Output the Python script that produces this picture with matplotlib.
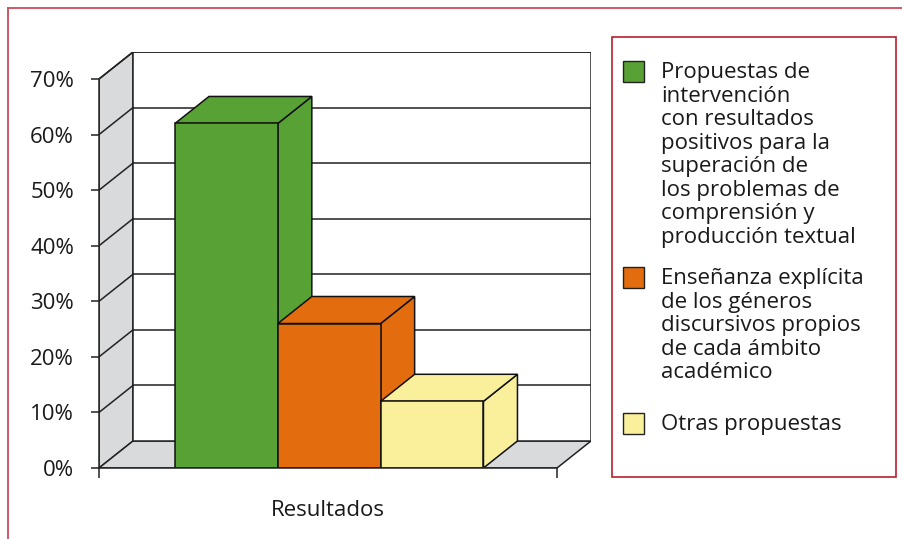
import matplotlib
matplotlib.use("Agg")
import matplotlib.pyplot as plt
from matplotlib.patches import Polygon, Rectangle
from matplotlib.lines import Line2D
from matplotlib.ticker import FuncFormatter

plt.rcParams['font.family'] = ['Open Sans', 'DejaVu Sans']

# datos
categoria = "Resultados"
series = [
    "Propuestas de\nintervención\ncon resultados\npositivos para la\nsuperación de\nlos problemas de\ncomprensión y\nproducción textual",
    "Enseñanza explícita\nde los géneros\ndiscursivos propios\nde cada ámbito\nacadémico",
    "Otras propuestas",
]
valores = [62, 26, 12]
colores = ["#58a134", "#e36c0f", "#faf09b"]
yticks = [0, 10, 20, 30, 40, 50, 60, 70]

W, H = 903, 539
fig = plt.figure(figsize=(W / 100, H / 100), dpi=100)


def fx(px):
    return px / W


def fy(py):
    return 1 - py / H


# profundidad del efecto 3D (en unidades de datos)
dx = 34 / 458
dy = 27 / 5.553
ymax = yticks[-1]
linea = "#222222"
lw = 1.1
texto = "#1a1a1a"
fs = 16

ax = fig.add_axes([fx(99), fy(468), 492 / W, 416 / H])
ax.set_xlim(0, 1 + dx)
ax.set_ylim(0, ymax + dy)
ax.patch.set_visible(False)
for s in ["top", "right"]:
    ax.spines[s].set_visible(False)
ax.spines["left"].set_bounds(0, ymax)
ax.spines["bottom"].set_bounds(0, 1)
for s in ["left", "bottom"]:
    ax.spines[s].set_color(linea)
    ax.spines[s].set_linewidth(lw)
    ax.spines[s].set_zorder(6)

ax.set_yticks(yticks)
ax.yaxis.set_major_formatter(FuncFormatter(lambda v, p: f"{v:.0f}%"))
ax.tick_params(axis="y", length=6, width=lw, color=linea, pad=12,
               labelsize=fs, labelcolor=texto)
ax.set_xticks([0.5])
ax.set_xticklabels([categoria])
ax.set_xticks([0, 1], minor=True)
ax.tick_params(axis="x", which="major", length=0, pad=23, labelsize=fs,
               labelcolor=texto)
ax.tick_params(axis="x", which="minor", length=7.5, width=lw, color=linea)

gris = "#d9dadc"
# pared lateral y suelo
ax.add_patch(Polygon([(0, 0), (dx, dy), (dx, ymax + dy), (0, ymax)],
                     closed=True, facecolor=gris, edgecolor=linea, lw=lw, zorder=1))
ax.add_patch(Polygon([(0, 0), (1, 0), (1 + dx, dy), (dx, dy)],
                     closed=True, facecolor=gris, edgecolor=linea, lw=lw, zorder=1))
# pared del fondo
ax.add_patch(Polygon([(dx, dy), (1 + dx, dy), (1 + dx, ymax + dy), (dx, ymax + dy)],
                     closed=True, facecolor="white", edgecolor=linea, lw=lw, zorder=1))
for v in yticks[1:]:
    ax.plot([dx, 1 + dx], [v + dy, v + dy], color=linea, lw=lw, zorder=2,
            solid_capstyle="butt")
    ax.plot([0, dx], [v, v + dy], color=linea, lw=lw, zorder=2)

# barras 3D
x0 = 76 / 458
ancho = 0.2245
for i, (v, c) in enumerate(zip(valores, colores)):
    a = x0 + i * ancho
    b = a + ancho
    z = 3 + i
    kw = dict(closed=True, facecolor=c, edgecolor="#111111", lw=lw, zorder=z,
              joinstyle="miter")
    ax.add_patch(Polygon([(b, 0), (b + dx, dy), (b + dx, v + dy), (b, v)], **kw))
    ax.add_patch(Polygon([(a, v), (b, v), (b + dx, v + dy), (a + dx, v + dy)], **kw))
    ax.add_patch(Polygon([(a, 0), (b, 0), (b, v), (a, v)], **kw))

# marco exterior
fig.add_artist(Line2D([fx(8), fx(903)], [fy(8), fy(8)], color="#cf4a5a", lw=1.3))
fig.add_artist(Line2D([fx(8), fx(8)], [fy(8), fy(539)], color="#cf4a5a", lw=1.3))

# leyenda
fig.add_artist(Rectangle((fx(612), fy(477)), (896 - 612) / W, (477 - 37) / H,
                         transform=fig.transFigure, fill=False,
                         edgecolor="#b8202f", lw=1.2))
tops = [61, 267, 413]
for etiqueta, c, t in zip(series, colores, tops):
    fig.add_artist(Rectangle((fx(623), fy(t + 21)), 21 / W, 21 / H,
                             transform=fig.transFigure, facecolor=c,
                             edgecolor="#222222", lw=1.0))
    fig.text(fx(661), fy(t + 1), etiqueta, ha="left", va="top", fontsize=fs,
             color=texto, linespacing=1.16)

fig.savefig("out.png", dpi=100)
